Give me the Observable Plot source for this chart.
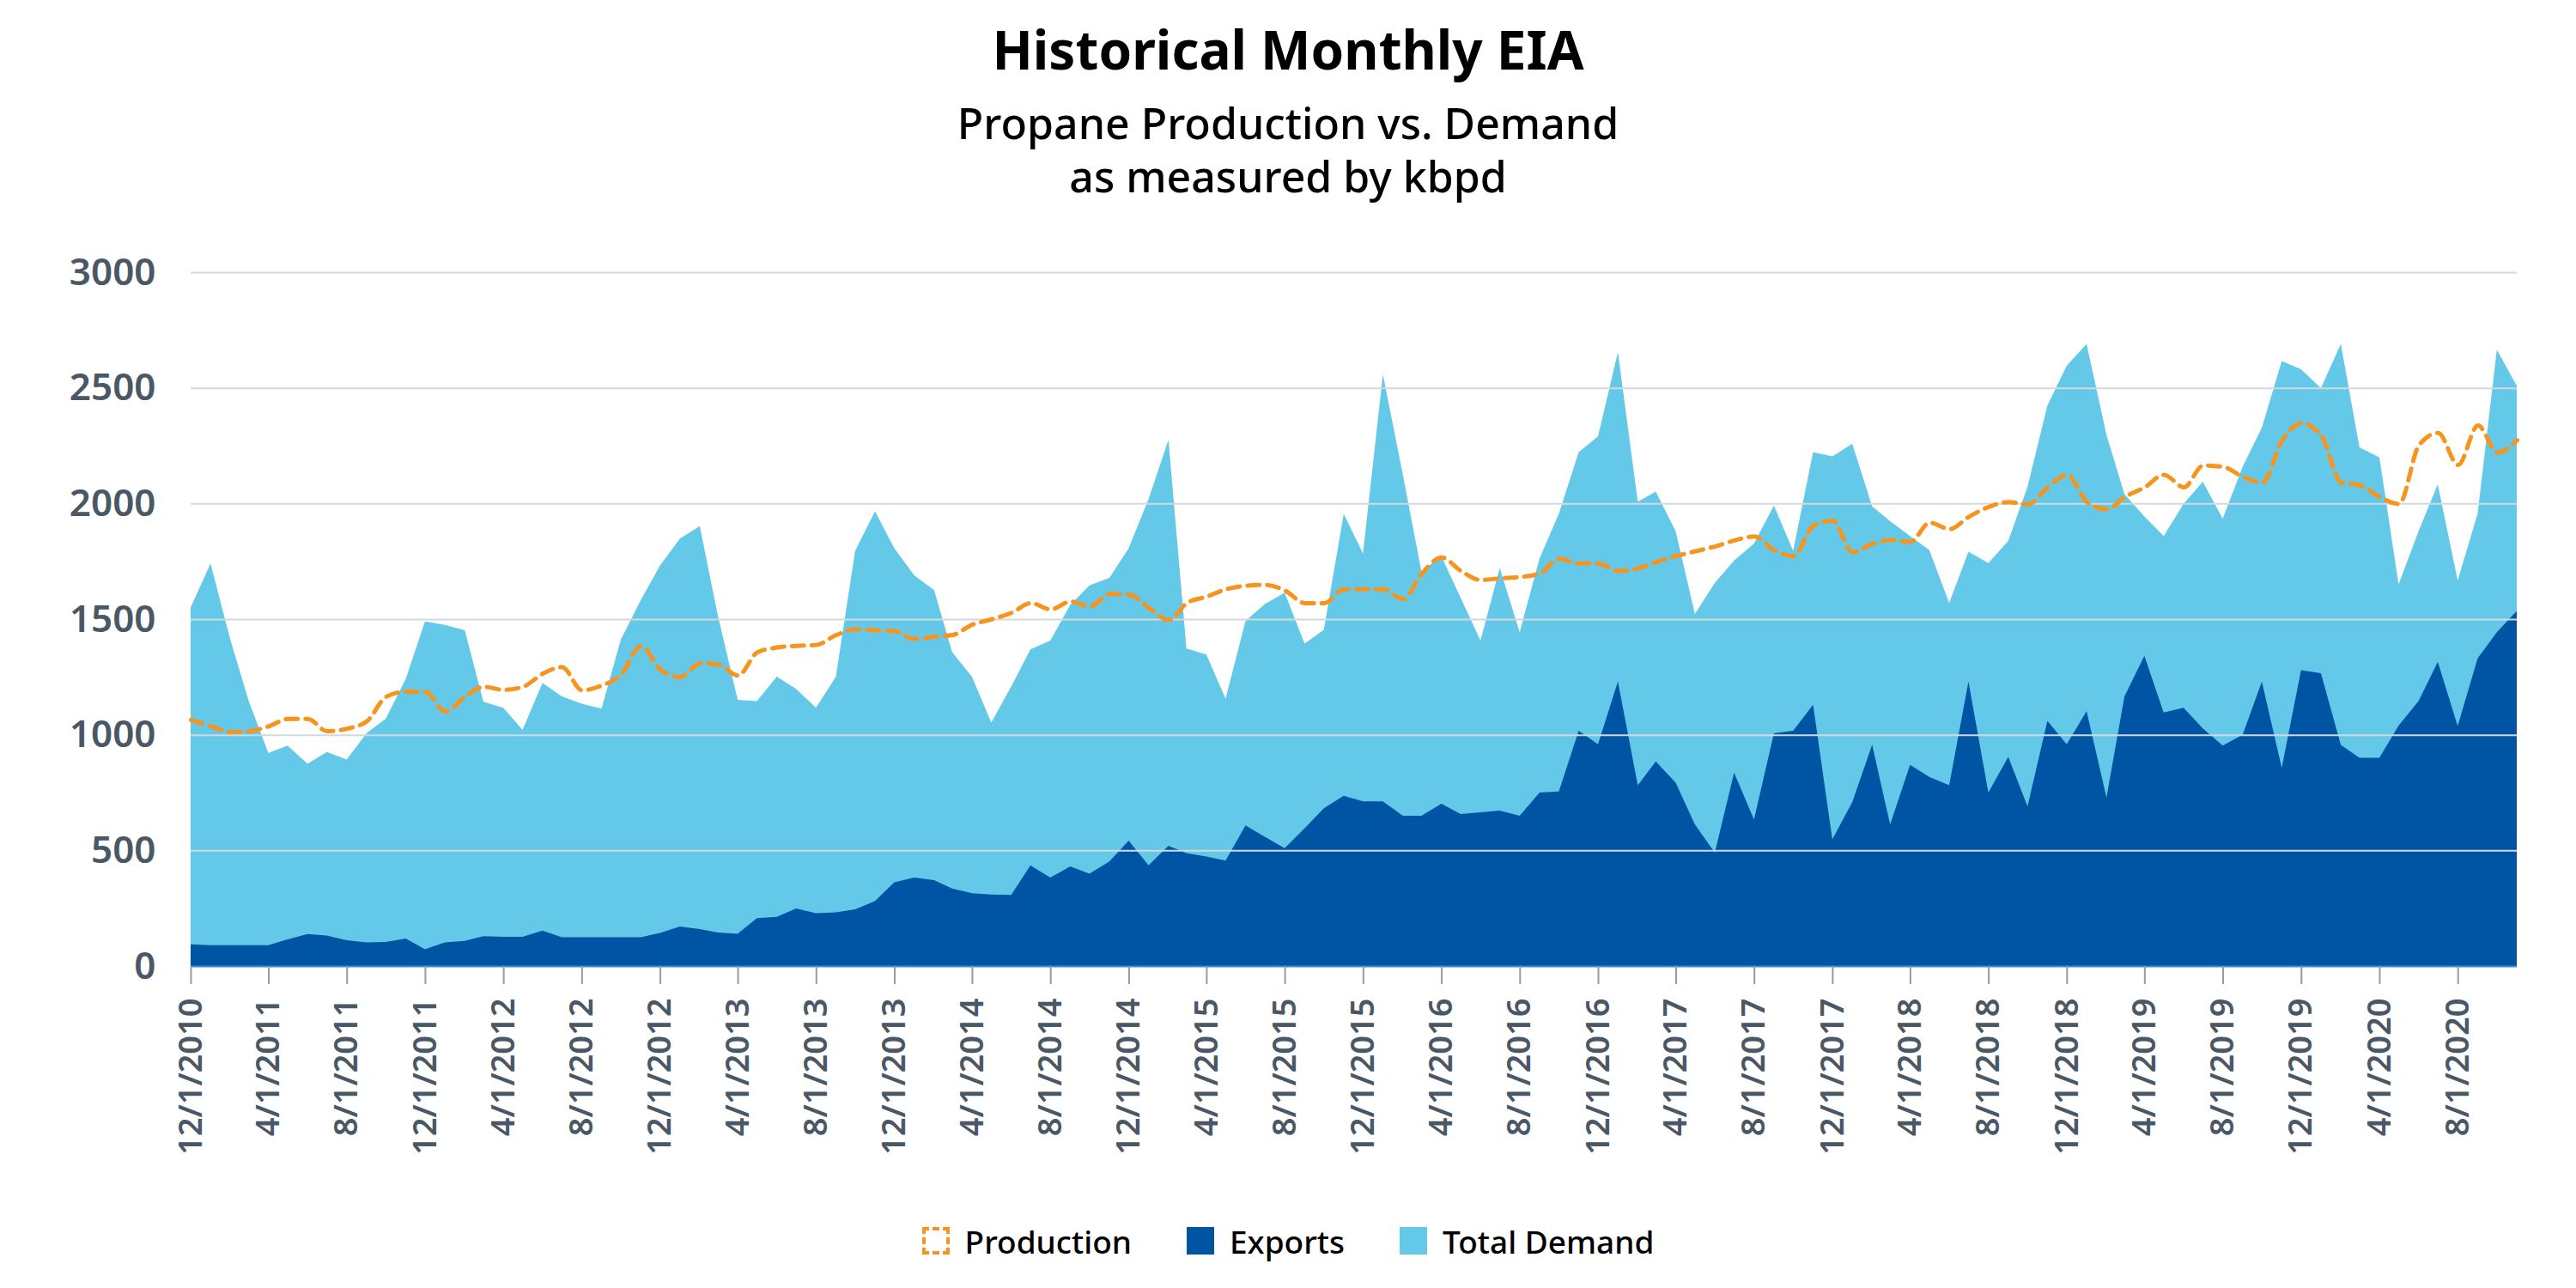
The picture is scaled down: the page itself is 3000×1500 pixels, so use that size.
<!DOCTYPE html>
<html>
<head>
<meta charset="utf-8">
<script src="https://cdn.jsdelivr.net/npm/d3@7"></script>
<script src="https://cdn.jsdelivr.net/npm/@observablehq/plot@0.6"></script>
<style>
  html, body { margin: 0; padding: 0; background: #fff; }
  body { width: 3000px; font-family: "Noto Sans", "Open Sans", sans-serif; }
  #header { position: relative; height: 260px; width: 3000px; }
  #title { position: absolute; left: 0; width: 3000px; top: 20px; text-align: center; font-size: 62px; line-height: 74px; font-weight: 700; color: #000; }
  #subtitle { position: absolute; left: 0; width: 3000px; top: 112px; text-align: center; font-size: 50px; line-height: 62px; font-weight: 500; color: #000; }
  #chart svg { display: block; }
  #legend { height: 110px; width: 3000px; display: flex; justify-content: center; align-items: center; gap: 0; }
  .item { display: flex; align-items: center; font-size: 37px; color: #000; font-weight: 500; margin: 0 32px; }
  .sw { width: 32px; height: 32px; margin-right: 18px; box-sizing: border-box; }
</style>
</head>
<body>
<div id="header">
  <div id="title">Historical Monthly EIA</div>
  <div id="subtitle">Propane Production vs. Demand<br>as measured by kbpd</div>
</div>
<div id="chart"></div>
<div id="legend"></div>
<script>
// Monthly values, Dec 2010 .. Nov 2020 (kbpd)
const totalDemand = [
  1550, 1740, 1410, 1150, 921, 953, 874, 925, 893, 1006, 1070, 1241,
  1490, 1475, 1452, 1143, 1117, 1021, 1224, 1166, 1134, 1113, 1411, 1582,
  1731, 1848, 1902, 1518, 1151, 1145, 1251, 1198, 1117, 1251, 1795, 1966,
  1806, 1689, 1625, 1358, 1250, 1053, 1209, 1369, 1407, 1561, 1646, 1678,
  1806, 2019, 2275, 1373, 1347, 1156, 1492, 1565, 1614, 1394, 1454, 1955,
  1784, 2558, 2126, 1706, 1772, 1593, 1407, 1721, 1443, 1763, 1955, 2222,
  2290, 2655, 2008, 2051, 1880, 1522, 1657, 1753, 1827, 1991, 1795, 2222,
  2204, 2258, 1987, 1923, 1859, 1799, 1570, 1791, 1742, 1838, 2072, 2424,
  2595, 2690, 2296, 2040, 1944, 1859, 1998, 2094, 1934, 2158, 2328, 2616,
  2580, 2499, 2690, 2243, 2200, 1650, 1880, 2083, 1667, 1955, 2665, 2509
];
const exportsSeries = [
  94, 90, 90, 90, 90, 115, 138, 132, 111, 102, 104, 119,
  72, 102, 109, 129, 126, 126, 153, 124, 124, 124, 124, 124,
  143, 171, 160, 145, 139, 207, 213, 249, 228, 232, 245, 281,
  362, 382, 371, 335, 315, 309, 307, 435, 382, 431, 399, 452,
  542, 435, 520, 488, 473, 456, 608, 559, 510, 595, 682, 736,
  712, 712, 650, 650, 702, 657, 665, 672, 650, 750, 755, 1017,
  959, 1230, 782, 885, 793, 612, 490, 836, 633, 1006, 1017, 1130,
  548, 708, 957, 612, 870, 818, 782, 1230, 750, 904, 691, 1060,
  959, 1102, 729, 1166, 1341, 1096, 1117, 1028, 953, 1000, 1230, 857,
  1279, 1266, 956, 900, 900, 1040, 1145, 1315, 1038, 1330, 1443, 1535
];
const production = [
  1066, 1038, 1013, 1017, 1038, 1070, 1070, 1017, 1028, 1060, 1166, 1188,
  1188, 1102, 1166, 1209, 1196, 1209, 1266, 1294, 1194, 1215, 1262, 1386,
  1283, 1251, 1311, 1305, 1258, 1358, 1379, 1386, 1390, 1433, 1458, 1454,
  1450, 1416, 1426, 1433, 1478, 1501, 1529, 1571, 1544, 1578, 1556, 1610,
  1608, 1550, 1497, 1571, 1599, 1631, 1646, 1650, 1625, 1571, 1571, 1631,
  1631, 1631, 1588, 1699, 1768, 1710, 1671, 1678, 1684, 1699, 1763, 1742,
  1742, 1710, 1721, 1748, 1774, 1795, 1816, 1842, 1859, 1799, 1774, 1906,
  1927, 1791, 1827, 1843, 1836, 1919, 1891, 1944, 1987, 2008, 1998, 2072,
  2126, 2008, 1976, 2030, 2072, 2126, 2072, 2166, 2160, 2117, 2092, 2275,
  2349, 2296, 2092, 2081, 2030, 2000, 2253, 2307, 2168, 2339, 2222, 2275
];
const yTicks = [0, 500, 1000, 1500, 2000, 2500, 3000];
const seriesNames = ["Production", "Exports", "Total Demand"];
const colors = { demand: "#64C9E8", exports: "#0054A4", production: "#F7941E" };

const months = d3.utcMonth.range(new Date(Date.UTC(2010, 11, 1)), new Date(Date.UTC(2020, 11, 1)));
const rows = months.map((d, i) => ({
  date: d,
  demand: totalDemand[i],
  exports: exportsSeries[i],
  production: production[i]
}));
const xTicks = months.filter((d, i) => i % 4 === 0);
const fmt = d => `${d.getUTCMonth() + 1}/${d.getUTCDate()}/${d.getUTCFullYear()}`;

const chart = Plot.plot({
  width: 3000,
  height: 1130,
  marginTop: 57,
  marginBottom: 265,
  marginLeft: 222,
  marginRight: 69,
  style: { fontFamily: "'Noto Sans', sans-serif", background: "#fff" },
  x: { type: "utc", domain: [months[0], months[months.length - 1]] },
  y: { domain: [0, 3000] },
  marks: [
    Plot.areaY(rows, { x: "date", y1: 0, y2: "demand", fill: colors.demand, curve: "linear" }),
    Plot.areaY(rows, { x: "date", y1: 0, y2: "exports", fill: colors.exports, curve: "linear" }),
    Plot.ruleY(yTicks.filter(v => v > 0), { stroke: "#d3d8dc", strokeWidth: 2 }),
    Plot.ruleY([0], { stroke: "#3a87d4", strokeWidth: 2 }),
    Plot.lineY(rows, { x: "date", y: "production", stroke: colors.production, strokeWidth: 5, strokeDasharray: "14,9", curve: "monotone-x" }),
    Plot.axisY({ ticks: yTicks, tickFormat: d => String(d), tickSize: 0, tickPadding: 41, fontSize: 44, fontWeight: 600, fill: "#4a5866", label: null }),
    Plot.axisX({ ticks: xTicks, tickFormat: fmt, tickRotate: -90, tickSize: 21, tickPadding: 16, fontSize: 38, fontWeight: 600, fill: "#4a5866", stroke: "#9a9a9a", strokeWidth: 2, label: null })
  ]
});
document.getElementById("chart").appendChild(chart);

// Legend
const legend = document.getElementById("legend");
const swatchStyles = [
  `border: 4px dashed ${colors.production};`,
  `background: ${colors.exports};`,
  `background: ${colors.demand};`
];
seriesNames.forEach((name, i) => {
  const item = document.createElement("div");
  item.className = "item";
  item.innerHTML = `<div class="sw" style="${swatchStyles[i]}"></div><span>${name}</span>`;
  legend.appendChild(item);
});
</script>
</body>
</html>
